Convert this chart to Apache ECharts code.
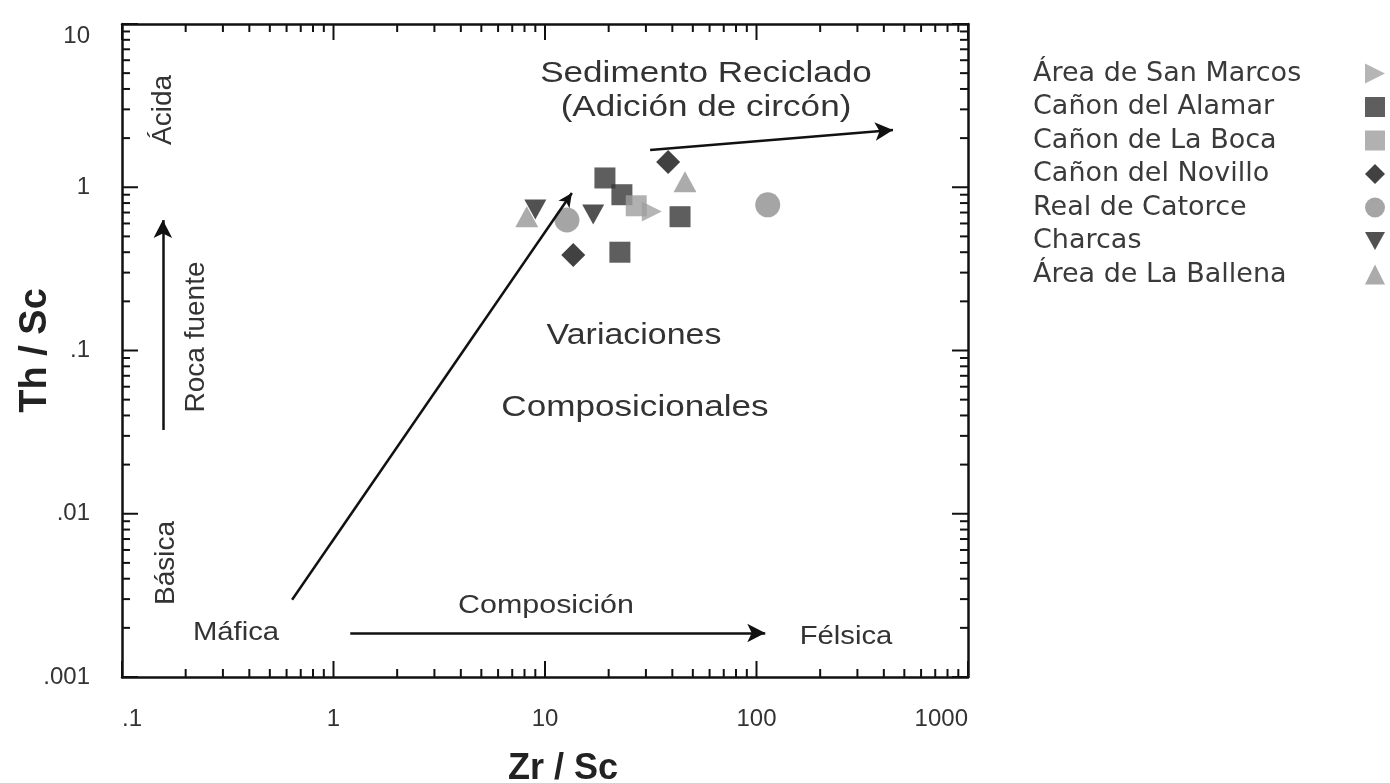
<!DOCTYPE html>
<html>
<head>
<meta charset="utf-8">
<script src="https://cdn.jsdelivr.net/npm/echarts@6/dist/echarts.min.js"></script>
<style>
html,body{margin:0;padding:0;background:#ffffff;}
#chart{width:1390px;height:783px;}
</style>
</head>
<body>
<div id="chart"></div>
<script>
// ---------- data (Zr/Sc, Th/Sc) ----------
const seriesNames = ['Área de San Marcos', 'Cañon del Alamar', 'Cañon de La Boca', 'Cañon del Novillo', 'Real de Catorce', 'Charcas', 'Área de La Ballena'];
const sanMarcos = [[32, 0.71]];
const alamar    = [[19.2, 1.14], [23.1, 0.90], [22.6, 0.40], [43.5, 0.66]];
const laBoca    = [[27, 0.77]];
const novillo   = [[13.6, 0.385], [38.2, 1.43]];
const catorce   = [[12.7, 0.63], [113, 0.78]];
const charcas   = [[9.0, 0.73], [16.9, 0.68]];
const ballena   = [[8.2, 0.66], [45.9, 1.08]];

const xTickLabels = ['.1', '1', '10', '100', '1000'];
const yTickLabels = ['.001', '.01', '.1', '1', '10'];
const xDecades = [-1, 0, 1, 2, 3];
const yDecades = [-3, -2, -1, 0, 1];

// annotation arrows [start, end] in data units
const arrowDiagonal   = [[0.637, 0.00297], [13.4, 0.923]];
const arrowSediment   = [[31.4, 1.69], [442, 2.24]];
const arrowComposition= [[1.20, 0.00186], [110, 0.00186]];
const arrowSource     = [[0.156, 0.0326], [0.156, 0.629]];

// ---------- ticks (log axis, drawn through the axis scale) ----------
const tickData = [];
xDecades.forEach((k, i) => {
  tickData.push([Math.pow(10, k), 1, 0, 1]);
  if (i < xDecades.length - 1) for (let m = 2; m <= 9; m++) tickData.push([m * Math.pow(10, k), 1, 0, 0]);
});
yDecades.forEach((k, i) => {
  tickData.push([1, Math.pow(10, k), 1, 1]);
  if (i < yDecades.length - 1) for (let m = 2; m <= 9; m++) tickData.push([1, m * Math.pow(10, k), 1, 0]);
});

function renderTick(params, api) {
  const cs = params.coordSys;
  const kind = api.value(2), major = api.value(3);
  const len = major ? 16 : 8;
  const st = { stroke: '#111', lineWidth: 2 };
  if (kind === 0) {
    const px = api.coord([api.value(0), 1])[0];
    const b = cs.y + cs.height, t = cs.y;
    return { type: 'group', children: [
      { type: 'line', shape: { x1: px, y1: b, x2: px, y2: b - len }, style: st },
      { type: 'line', shape: { x1: px, y1: t, x2: px, y2: t + len }, style: st }
    ]};
  }
  const py = api.coord([1, api.value(1)])[1];
  const l = cs.x, r = cs.x + cs.width;
  return { type: 'group', children: [
    { type: 'line', shape: { x1: l, y1: py, x2: l + len, y2: py }, style: st },
    { type: 'line', shape: { x1: r, y1: py, x2: r - len, y2: py }, style: st }
  ]};
}

const chart = echarts.init(document.getElementById('chart'));

const FONT = 'Liberation Sans';
const TXT = '#333';

function arrowLine(pair, headSize) {
  return [
    { coord: pair[0], symbol: 'none' },
    { coord: pair[1], symbol: 'arrow', symbolSize: headSize }
  ];
}

function hText(text, x, y, size) {
  return { type: 'text', x: x, y: y, scaleX: 1.17, z: 10, silent: true,
    style: { text: text, fontSize: size, fontFamily: FONT, fill: TXT, align: 'center', verticalAlign: 'middle' } };
}
function vText(text, x, y, size) {
  return { type: 'text', x: x, y: y, rotation: Math.PI / 2, z: 10, silent: true,
    style: { text: text, fontSize: size, fontFamily: FONT, fill: TXT, align: 'center', verticalAlign: 'middle' } };
}

const axisLineStyle = { show: true, onZero: false, lineStyle: { color: '#111', width: 2.5 } };

const option = {
  backgroundColor: '#ffffff',
  animation: false,
  grid: { left: 122, top: 24, right: 422, bottom: 106, containLabel: false, outerBoundsMode: 'none' },
  legend: {
    data: seriesNames,
    orient: 'vertical',
    left: 1028,
    top: 55,
    align: 'right',
    itemWidth: 20,
    itemHeight: 20,
    itemGap: 6.5,
    formatter: function (n) { return '{t|' + n + '}'; },
    textStyle: {
      rich: { t: { width: 327, align: 'left', fontSize: 27, lineHeight: 22, fontFamily: 'DejaVu Sans', color: '#3a3a3a' } }
    }
  },
  xAxis: [
    {
      type: 'log', logBase: 10, min: 0.1, max: 1000, position: 'bottom',
      axisLine: axisLineStyle, axisTick: { show: false }, splitLine: { show: false }, minorTick: { show: false },
      axisLabel: {
        margin: 30, fontSize: 24, fontFamily: FONT, color: TXT, alignMinLabel: 'left', alignMaxLabel: 'right',
        formatter: function (v) { return xTickLabels[Math.round(Math.log10(v)) + 1]; }
      },
      name: 'Zr / Sc', nameLocation: 'middle', nameGap: 74,
      nameTextStyle: { fontSize: 36, fontWeight: 'bold', fontFamily: FONT, color: '#222', padding: [0, 0, 0, 36] }
    },
    {
      type: 'log', logBase: 10, min: 0.1, max: 1000, position: 'top',
      axisLine: axisLineStyle, axisTick: { show: false }, splitLine: { show: false }, axisLabel: { show: false }
    }
  ],
  yAxis: [
    {
      type: 'log', logBase: 10, min: 0.001, max: 10, position: 'left',
      axisLine: axisLineStyle, axisTick: { show: false }, splitLine: { show: false }, minorTick: { show: false },
      axisLabel: {
        margin: 32, fontSize: 24, fontFamily: FONT, color: TXT, verticalAlignMaxLabel: 'top',
        formatter: function (v) { return yTickLabels[Math.round(Math.log10(v)) + 3]; }
      },
      name: 'Th / Sc', nameLocation: 'middle', nameGap: 67, nameRotate: 90, nameMoveOverlap: false,
      nameTextStyle: { fontSize: 38, fontWeight: 'bold', fontFamily: FONT, color: '#222' }
    },
    {
      type: 'log', logBase: 10, min: 0.001, max: 10, position: 'right',
      axisLine: axisLineStyle, axisTick: { show: false }, splitLine: { show: false }, axisLabel: { show: false }
    }
  ],
  series: [
    {
      name: 'ticks', type: 'custom', silent: true, xAxisIndex: 0, yAxisIndex: 0, z: 5,
      renderItem: renderTick, encode: { x: 0, y: 1 }, data: tickData
    },
    {
      name: seriesNames[0], type: 'scatter', data: sanMarcos,
      symbol: 'path://M0,0L10,5L0,10Z', symbolSize: [20, 20], itemStyle: { color: '#a3a3a3' }
    },
    {
      name: seriesNames[1], type: 'scatter', data: alamar,
      symbol: 'rect', symbolSize: 21, itemStyle: { color: '#363636' }
    },
    {
      name: seriesNames[2], type: 'scatter', data: laBoca,
      symbol: 'rect', symbolSize: 21, itemStyle: { color: '#9e9e9e' }
    },
    {
      name: seriesNames[3], type: 'scatter', data: novillo,
      symbol: 'diamond', symbolSize: 24, itemStyle: { color: '#111111' }
    },
    {
      name: seriesNames[4], type: 'scatter', data: catorce,
      symbol: 'circle', symbolSize: 25, itemStyle: { color: '#8f8f8f' }
    },
    {
      name: seriesNames[5], type: 'scatter', data: charcas,
      symbol: 'path://M0,0L10,0L5,9Z', symbolSize: [22, 20], itemStyle: { color: '#262626' }
    },
    {
      name: seriesNames[6], type: 'scatter', data: ballena,
      symbol: 'triangle', symbolSize: [23, 21], itemStyle: { color: '#969696' }
    },
    {
      name: 'annotations', type: 'line', data: [], z: 6,
      markLine: {
        silent: true, animation: false,
        lineStyle: { color: '#111', width: 2.5, type: 'solid' },
        label: { show: false },
        emphasis: { disabled: true },
        data: [
          arrowLine(arrowDiagonal, [10, 14]),
          arrowLine(arrowSediment, [14, 18]),
          arrowLine(arrowComposition, [14, 18]),
          arrowLine(arrowSource, [14, 18])
        ]
      }
    }
  ],
  graphic: [
    hText('Sedimento Reciclado', 706, 74, 30),
    hText('(Adición de circón)', 706, 108, 30),
    hText('Variaciones', 634, 336, 29),
    hText('Composicionales', 635, 408, 30),
    hText('Composición', 546, 606, 26),
    hText('Máfica', 236, 633, 25),
    hText('Félsica', 846, 637, 25),
    vText('Ácida', 163, 110, 28),
    vText('Roca fuente', 196, 337, 28),
    vText('Básica', 166, 563, 28)
  ]
};

chart.setOption(option);
</script>
</body>
</html>
